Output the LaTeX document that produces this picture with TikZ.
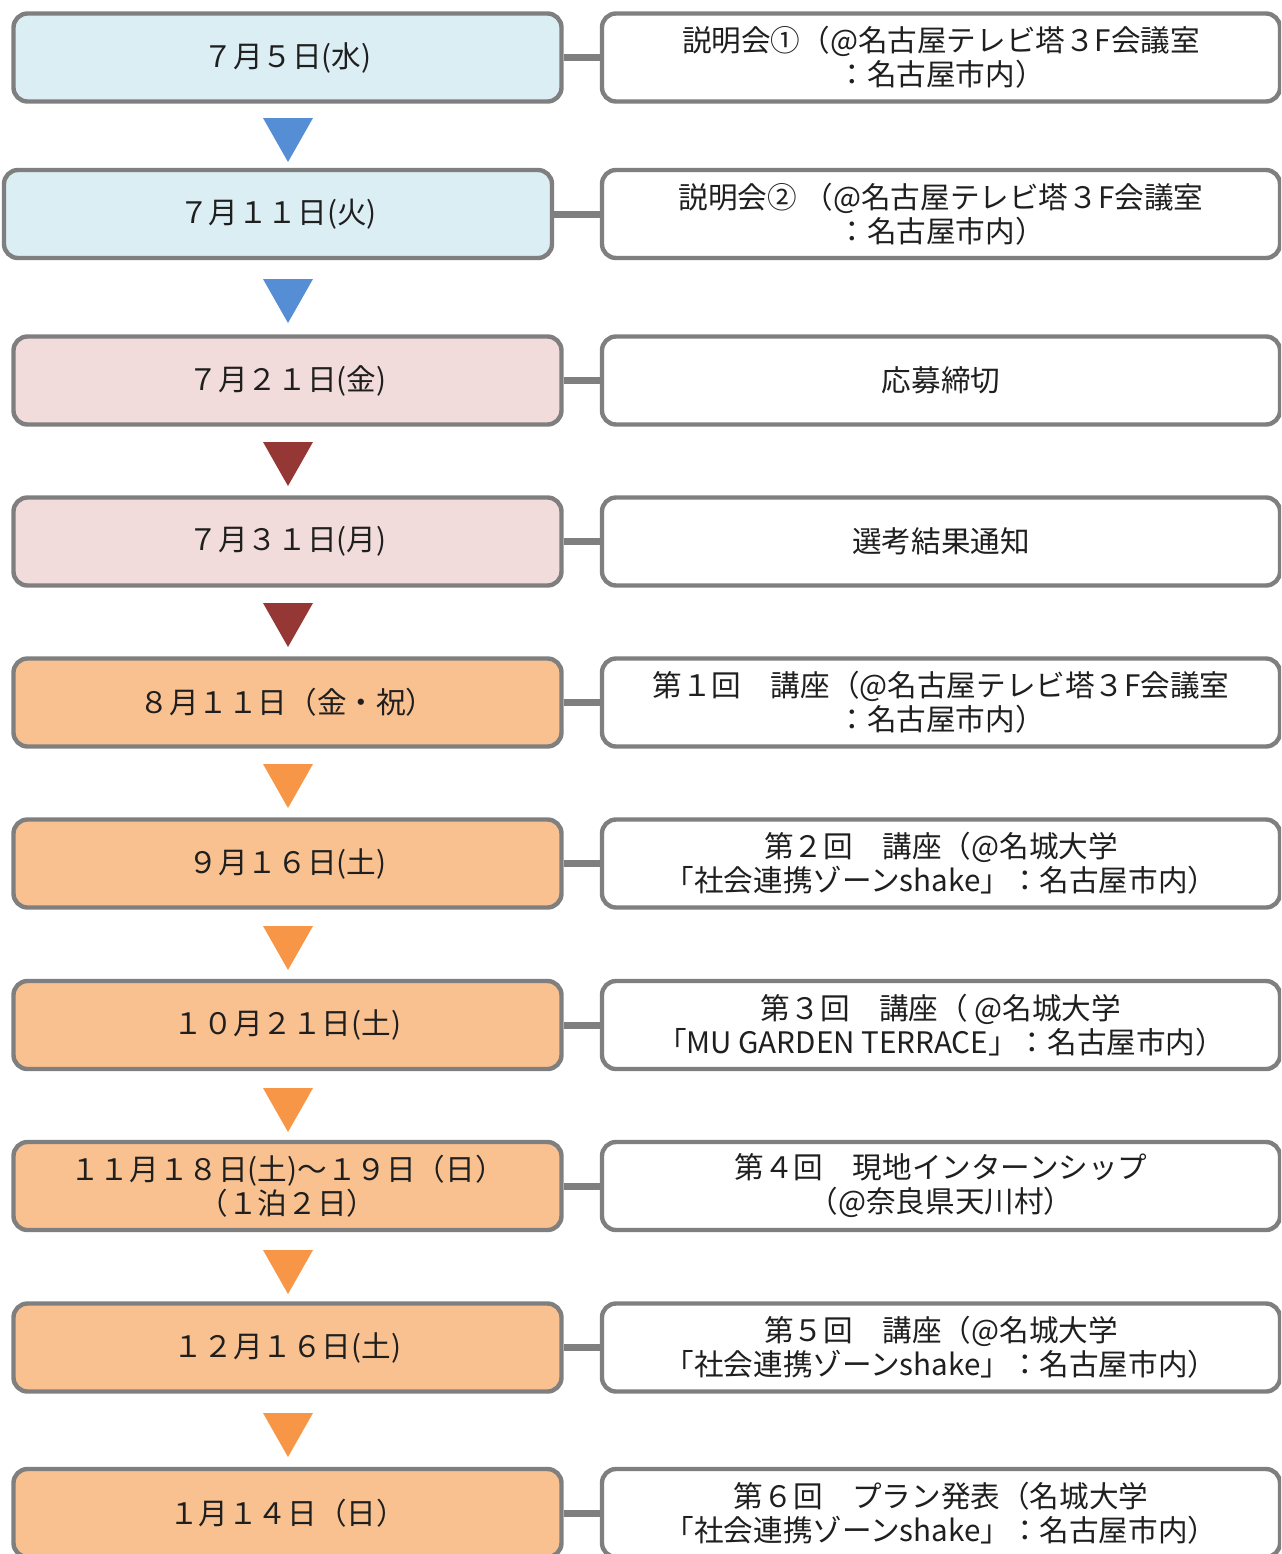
\documentclass[tikz,border=0pt]{standalone}
\usepackage{fontspec}
\setmainfont{Noto Sans CJK JP}
\usepackage{tikz}
\usetikzlibrary{calc}
\definecolor{rim}{HTML}{7F7F7F}
\definecolor{ink}{HTML}{1F1F1F}
\definecolor{skyfill}{HTML}{DBEEF4}
\definecolor{rosefill}{HTML}{F2DCDB}
\definecolor{peachfill}{HTML}{F9C18F}
\definecolor{skytri}{HTML}{558ED5}
\definecolor{rosetri}{HTML}{953735}
\definecolor{peachtri}{HTML}{F79646}
\tikzset{
  datebox/.style={draw=rim, line width=2.2pt, rounded corners=7pt, minimum width=274pt,
    minimum height=44pt, inner sep=0pt, align=center, text=ink,
    font=\fontsize{14.8}{17}\selectfont},
  notebox/.style={datebox, fill=white, minimum width=339pt},
  link/.style={rim, line width=3.5pt}
}

\begin{document}
\begin{tikzpicture}[x=.5pt, y=-.5pt]
\useasboundingbox (0,0) rectangle (1281,1554);
\clip (0,0) rectangle (1281,1554);
% dates
\node[datebox, fill=skyfill] (d1) at (287.5,57.5) {７月５日(水)};
\node[datebox, fill=skyfill] (d2) at (278,214) {７月１１日(火)};
\node[datebox, fill=rosefill] (d3) at (287.5,380.5) {７月２１日(金)};
\node[datebox, fill=rosefill] (d4) at (287.5,541.5) {７月３１日(月)};
\node[datebox, fill=peachfill] (d5) at (287.5,702.5) {８月１１日（金・祝）};
\node[datebox, fill=peachfill] (d6) at (287.5,863.5) {９月１６日(土)};
\node[datebox, fill=peachfill] (d7) at (287.5,1025) {１０月２１日(土)};
\node[datebox, fill=peachfill] (d8) at (287.5,1186) {１１月１８日(土)～１９日（日）\\（１泊２日）};
\node[datebox, fill=peachfill] (d9) at (287.5,1347.5) {１２月１６日(土)};
\node[datebox, fill=peachfill] (d10) at (287.5,1513) {１月１４日（日）};
% events
\node[notebox] (n1) at (941,57.5) {説明会①（@名古屋テレビ塔３F会議室\\：名古屋市内）};
\node[notebox] (n2) at (941,214) {説明会② （@名古屋テレビ塔３F会議室\\：名古屋市内）};
\node[notebox] (n3) at (941,380.5) {応募締切};
\node[notebox] (n4) at (941,541.5) {選考結果通知};
\node[notebox] (n5) at (941,702.5) {第１回　講座（@名古屋テレビ塔３F会議室\\：名古屋市内）};
\node[notebox] (n6) at (941,863.5) {第２回　講座（@名城大学\\「社会連携ゾーンshake」：名古屋市内）};
\node[notebox] (n7) at (941,1025) {第３回　講座（ @名城大学\\「MU GARDEN TERRACE」：名古屋市内）};
\node[notebox] (n8) at (941,1186) {第４回　現地インターンシップ\\（@奈良県天川村）};
\node[notebox] (n9) at (941,1347.5) {第５回　講座（@名城大学\\「社会連携ゾーンshake」：名古屋市内）};
\node[notebox] (n10) at (941,1513) {第６回　プラン発表（名城大学\\「社会連携ゾーンshake」：名古屋市内）};
\foreach \i in {1,...,10} {
  \draw[link] (d\i) -- (n\i);
}
% arrows between dates
\foreach \t/\c in {118/skytri, 279/skytri, 442/rosetri, 603/rosetri, 764/peachtri,
    926/peachtri, 1088/peachtri, 1250/peachtri, 1413/peachtri} {
  \fill[\c] (263,\t) -- (313,\t) -- (288,\t+44) -- cycle;
}
\end{tikzpicture}
\end{document}
